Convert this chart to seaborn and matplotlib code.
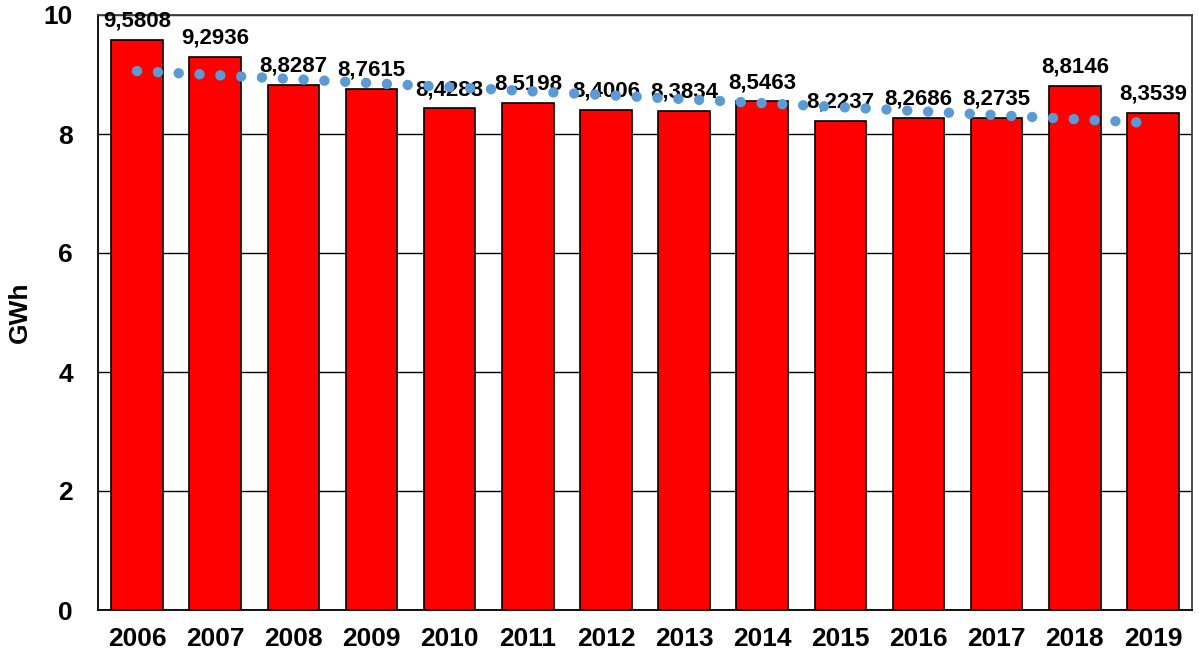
import numpy as np
import pandas as pd
import matplotlib
matplotlib.use("Agg")
import matplotlib.pyplot as plt
import seaborn as sns

years = ["2006", "2007", "2008", "2009", "2010", "2011", "2012",
         "2013", "2014", "2015", "2016", "2017", "2018", "2019"]
values = [9.5808, 9.2936, 8.8287, 8.7615, 8.4288, 8.5198, 8.4006,
          8.3834, 8.5463, 8.2237, 8.2686, 8.2735, 8.8146, 8.3539]
y_ticks = [0, 2, 4, 6, 8, 10]

sns.set_theme(style="white")
plt.rcParams["font.family"] = ["Liberation Sans", "DejaVu Sans"]
plt.rcParams["font.weight"] = "bold"
plt.rcParams["text.color"] = "black"
plt.rcParams["axes.labelcolor"] = "black"
plt.rcParams["xtick.color"] = "black"
plt.rcParams["ytick.color"] = "black"

df = pd.DataFrame({"year": years, "gwh": values})

fig = plt.figure(figsize=(11.99, 6.6), dpi=100)
ax = fig.add_axes([98 / 1199, 50 / 660, (1192 - 98) / 1199, (610 - 15) / 660])

sns.barplot(data=df, x="year", y="gwh", color="#FF0000", saturation=1,
            edgecolor="black", linewidth=1.2, width=0.66, ax=ax, zorder=2)

# value labels with decimal comma
for i, v in enumerate(values):
    ax.annotate(f"{v:.4f}".replace(".", ","), (i, v), xytext=(0, 6),
                textcoords="offset points", ha="center", va="bottom",
                fontsize=16, fontweight="bold", color="black", zorder=3)

# linear trend line
xs = np.arange(len(values))
k, b = np.polyfit(xs, values, 1)
ax.plot(xs, k * xs + b, color="#5B9BD5", lw=7.5, linestyle=(0, (0.001, 2.0)),
        dash_capstyle="round", zorder=4)

ax.set_xlim(-0.5, len(values) - 0.5)
ax.set_ylim(0, 10)
ax.set_yticks(y_ticks)
ax.set_yticklabels([str(t) for t in y_ticks], fontsize=19, fontweight="bold")
ax.tick_params(axis="x", labelsize=19, pad=12, length=0)
ax.tick_params(axis="y", pad=18, length=0)
for lab in ax.get_xticklabels():
    lab.set_fontweight("bold")
ax.set_xlabel("")
ax.set_ylabel("GWh", fontsize=19, fontweight="bold")
ax.yaxis.set_label_coords(-0.060, 0.5)

ax.yaxis.grid(True, color="black", linewidth=1.0, zorder=0)
ax.set_axisbelow(True)
for side in ["left", "bottom"]:
    ax.spines[side].set_color("black")
    ax.spines[side].set_linewidth(1.3)
for side in ["top", "right"]:
    ax.spines[side].set_color("#404040")
    ax.spines[side].set_linewidth(1.3)

fig.savefig("out.png", dpi=100)
